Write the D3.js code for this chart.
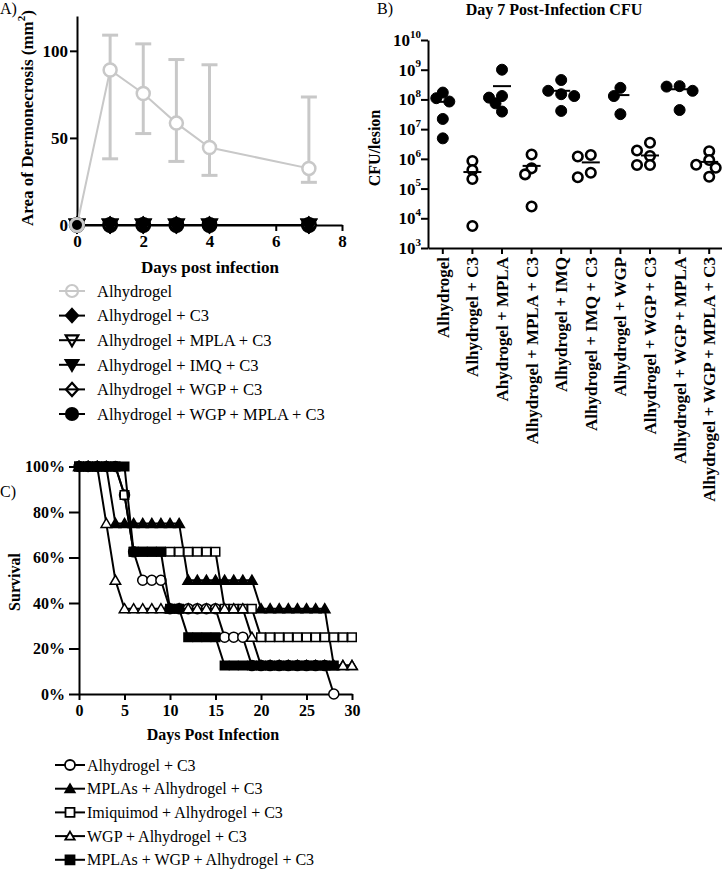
<!DOCTYPE html>
<html><head><meta charset="utf-8">
<script src="https://cdn.jsdelivr.net/npm/d3@7/dist/d3.min.js"></script>
<style>
body{margin:0;background:#fff;}
svg{display:block;background:#fff;}
text{font-family:"Liberation Serif","Times New Roman",serif;fill:#000;}
</style></head><body>
<svg id="chart" width="722" height="869"></svg>
<script>
// ================= Panel A data =================
const dermDays = [0, 1, 2, 3, 4, 7];
const alhydrogelMean  = [0, 89, 75.5, 58.5, 44.5, 32.5];
const alhydrogelUpper = [0, 109, 104, 95, 92, 73.5];
const alhydrogelLower = [0, 38, 52.5, 36.5, 28.5, 24.5];
const c3Area        = [0, 0, 0, 0, 0, 0];
const mplaC3Area    = [0, 0, 0, 0, 0, 0];
const imqC3Area     = [0, 0, 0, 0, 0, 0];
const wgpC3Area     = [0, 0, 0, 0, 0, 0];
const wgpMplaC3Area = [0, 0, 0, 0, 0, 0];
const legendA = ["Alhydrogel", "Alhydrogel + C3", "Alhydrogel + MPLA + C3",
                 "Alhydrogel + IMQ + C3", "Alhydrogel + WGP + C3", "Alhydrogel + WGP + MPLA + C3"];
const dermXTicks = [0, 2, 4, 6, 8];
const dermYTicks = [0, 50, 100];

// ================= Panel B data =================
const cfuGroups = ["Alhydrogel", "Alhydrogel + C3", "Ahydrogel + MPLA", "Alhydrogel + MPLA + C3",
  "Alhydrogel + IMQ", "Alhydrogel + IMQ + C3", "Alhydrogel + WGP", "Alhydrogel + WGP + C3",
  "Alhydrogel + WGP + MPLA", "Alhydrogel + WGP + MPLA + C3"];
const cfuAlh        = [1.7e8, 1.1e8, 8.5e7, 2.2e7, 4.9e6];
const cfuAlhC3      = [8.5e5, 4.2e5, 2.1e5, 5.5e3];
const cfuMpla       = [1.0e9, 1.3e8, 7.4e7, 1.15e8, 3.9e7];
const cfuMplaC3     = [1.4e6, 4.8e5, 3.0e5, 2.5e4];
const cfuImq        = [4.5e8, 1.5e8, 1.95e8, 1.3e8, 4.1e7];
const cfuImqC3      = [1.35e6, 1.2e6, 3.4e5, 2.4e5];
const cfuWgp        = [2.45e8, 1.3e8, 3.2e7];
const cfuWgpC3      = [3.5e6, 1.25e6, 1.9e6, 6.2e5, 6.2e5];
const cfuWgpMpla    = [2.8e8, 2.7e8, 1.95e8, 4.4e7];
const cfuWgpMplaC3  = [1.8e6, 9.1e5, 6.3e5, 5.0e5, 2.5e5];
const cfuCenter     = [8.3e7, 3.6e5, 2.8e8, 5.8e5, 1.95e8, 7.6e5, 1.4e8, 1.3e6, 2.2e8, 7.9e5];
const cfuTicks = [1e3, 1e4, 1e5, 1e6, 1e7, 1e8, 1e9, 1e10];

// ================= Panel C data (survival %, day 0 onward) =================
const survAlhC3     = [100,100,100,100,100,87.5,62.5,50,50,50,37.5,37.5,37.5,37.5,37.5,37.5,25,25,25,12.5,12.5,12.5,12.5,12.5,12.5,12.5,12.5,12.5,0];
const survMpla      = [100,100,100,100,75,75,75,75,75,75,75,75,50,50,50,50,50,50,50,50,37.5,37.5,37.5,37.5,37.5,37.5,37.5,37.5,12.5,12.5,12.5];
const survImq       = [100,100,100,100,100,87.5,62.5,62.5,62.5,62.5,62.5,62.5,62.5,62.5,62.5,62.5,37.5,37.5,37.5,37.5,25,25,25,25,25,25,25,25,25,25,25];
const survWgp       = [100,100,100,75,50,37.5,37.5,37.5,37.5,37.5,37.5,37.5,37.5,37.5,37.5,37.5,37.5,37.5,37.5,25,12.5,12.5,12.5,12.5,12.5,12.5,12.5,12.5,12.5,12.5,12.5];
const survMplaWgp   = [100,100,100,100,100,100,62.5,62.5,62.5,62.5,37.5,37.5,25,25,25,25,12.5,12.5,12.5,12.5,12.5,12.5,12.5,12.5,12.5,12.5,12.5,12.5,12.5];
const legendC = ["Alhydrogel + C3", "MPLAs + Alhydrogel + C3", "Imiquimod + Alhydrogel + C3",
                 "WGP + Alhydrogel + C3", "MPLAs + WGP + Alhydrogel + C3"];
const survXTicks = [0, 5, 10, 15, 20, 25, 30];
const survYTicks = [0, 20, 40, 60, 80, 100];

// ================= helpers =================
const svg = d3.select("#chart");
const GRAY = "#c8c8c8";

function shapePath(kind, s) {
  const h = s / 2;
  switch (kind) {
    case "circle":  return d3.symbol(d3.symbolCircle, Math.PI * h * h)();
    case "square":  return `M${-h},${-h}H${h}V${h}H${-h}Z`;
    case "diamond": return `M0,${-h * 1.1}L${h},0L0,${h * 1.1}L${-h},0Z`;
    case "triUp":   return `M0,${-h}L${h * 1.05},${h * 0.8}L${-h * 1.05},${h * 0.8}Z`;
    case "triDown": return `M0,${h}L${h * 1.05},${-h * 0.8}L${-h * 1.05},${-h * 0.8}Z`;
  }
}
function addMarker(g, kind, filled, x, y, s, color, sw, openFill) {
  return g.append("path").attr("d", shapePath(kind, s))
    .attr("transform", `translate(${x},${y})`)
    .attr("fill", filled ? color : (openFill || "#fff"))
    .attr("stroke", color).attr("stroke-width", sw);
}
function styleAxis(g, fs, weight) {
  g.select(".domain").attr("stroke", "#000").attr("stroke-width", 2);
  g.selectAll(".tick line").attr("stroke", "#000").attr("stroke-width", 2);
  g.selectAll(".tick text").attr("font-family", '"Liberation Serif","Times New Roman",serif')
    .attr("font-size", fs).attr("font-weight", weight || "bold").attr("fill", "#000");
  g.attr("font-family", null).attr("font-size", null);
}

// ================= Panel A =================
const gA = svg.append("g");
const xA = d3.scaleLinear().domain([0, 8]).range([77, 342]);
const yA = d3.scaleLinear().domain([0, 120]).range([225, 16]);

gA.append("text").attr("x", 0).attr("y", 14).attr("font-size", 16).text("A)");

const axAx = gA.append("g").attr("transform", `translate(0,${yA(0)})`)
  .call(d3.axisBottom(xA).tickValues(dermXTicks).tickSize(6).tickSizeOuter(0).tickPadding(4));
styleAxis(axAx, 17);
const axAy = gA.append("g").attr("transform", `translate(${xA(0)},0)`)
  .call(d3.axisLeft(yA).tickValues(dermYTicks).tickSize(7).tickSizeOuter(0).tickPadding(2));
styleAxis(axAy, 17);

gA.append("text").attr("x", 210).attr("y", 273).attr("text-anchor", "middle")
  .attr("font-size", 17).attr("font-weight", "bold").text("Days post infection");
const ylabA = gA.append("text").attr("transform", "translate(27,118) rotate(-90)")
  .attr("text-anchor", "middle").attr("dy", "0.35em").attr("font-size", 17).attr("font-weight", "bold");
ylabA.append("tspan").text("Area of Dermonecrosis (mm");
ylabA.append("tspan").attr("font-size", 11).attr("dy", "-0.7em").text("2");
ylabA.append("tspan").attr("dy", "0.45em").text(")");

const alhPts = dermDays.map((d, i) => ({ d, m: alhydrogelMean[i], u: alhydrogelUpper[i], l: alhydrogelLower[i] }));
alhPts.filter(p => p.u > p.m || p.l < p.m).forEach(p => {
  const x = xA(p.d);
  gA.append("line").attr("x1", x).attr("x2", x).attr("y1", yA(p.u)).attr("y2", yA(p.l))
    .attr("stroke", GRAY).attr("stroke-width", 3);
  [p.u, p.l].forEach(v => gA.append("line").attr("x1", x - 8).attr("x2", x + 8)
    .attr("y1", yA(v)).attr("y2", yA(v)).attr("stroke", GRAY).attr("stroke-width", 3));
});
gA.append("path").datum(alhPts)
  .attr("d", d3.line().x(p => xA(p.d)).y(p => yA(p.m)))
  .attr("fill", "none").attr("stroke", GRAY).attr("stroke-width", 2);
alhPts.forEach(p => addMarker(gA, "circle", false, xA(p.d), yA(p.m), 13, GRAY, 2.5));

const zeroSeries = [
  { v: wgpMplaC3Area, kind: "circle",  filled: true },
  { v: c3Area,        kind: "diamond", filled: true },
  { v: wgpC3Area,     kind: "diamond", filled: false },
  { v: mplaC3Area,    kind: "triDown", filled: false },
  { v: imqC3Area,     kind: "triDown", filled: true }
];
zeroSeries.forEach(s => {
  gA.append("path").datum(dermDays.map((d, i) => [d, s.v[i]]))
    .attr("d", d3.line().x(p => xA(p[0])).y(p => yA(p[1])))
    .attr("fill", "none").attr("stroke", "#000").attr("stroke-width", 2);
  dermDays.forEach((d, i) => addMarker(gA, s.kind, s.filled, xA(d), yA(s.v[i]), 14, "#000", 2));
});
gA.append("path").attr("d", shapePath("circle", 13))
  .attr("transform", `translate(${xA(dermDays[0])},${yA(alhydrogelMean[0])})`)
  .attr("fill", "none").attr("stroke", GRAY).attr("stroke-width", 3);

// legend A
const legAKinds = [["circle", false, GRAY], ["diamond", true, "#000"], ["triDown", false, "#000"],
                   ["triDown", true, "#000"], ["diamond", false, "#000"], ["circle", true, "#000"]];
legendA.forEach((name, i) => {
  const y = 291 + i * 24.6;
  const [k, f, c] = legAKinds[i];
  gA.append("line").attr("x1", 59).attr("x2", 85).attr("y1", y).attr("y2", y)
    .attr("stroke", c).attr("stroke-width", 2);
  addMarker(gA, k, f, 72, y, 12, c, 2.2, "none");
  gA.append("text").attr("x", 97).attr("y", y).attr("dy", "0.35em")
    .attr("font-size", 16.5).text(name);
});

// ================= Panel B =================
const gB = svg.append("g");
const xB = d3.scaleBand().domain(cfuGroups).range([428, 724]);
const yB = d3.scaleLog().domain([1e3, 1e10]).range([248, 40]);

gB.append("text").attr("x", 377).attr("y", 14).attr("font-size", 16).text("B)");
gB.append("text").attr("x", 554).attr("y", 15).attr("text-anchor", "middle")
  .attr("font-size", 16).attr("font-weight", "bold").text("Day 7 Post-Infection CFU");
gB.append("text").attr("transform", "translate(374,148) rotate(-90)").attr("text-anchor", "middle")
  .attr("dy", "0.35em").attr("font-size", 16).attr("font-weight", "bold").text("CFU/lesion");

const axBy = gB.append("g").attr("transform", "translate(428,0)")
  .call(d3.axisLeft(yB).tickValues(cfuTicks).tickFormat("").tickSize(7).tickSizeOuter(0));
styleAxis(axBy, 17);
axBy.selectAll(".tick").each(function (d) {
  const t = d3.select(this).append("text").attr("x", -7).attr("dy", "0.32em")
    .attr("text-anchor", "end").attr("font-size", 17).attr("font-weight", "bold");
  t.append("tspan").text("10");
  t.append("tspan").attr("font-size", 11).attr("dy", "-0.75em").text(Math.round(Math.log10(d)));
});
const axBx = gB.append("g").attr("transform", "translate(0,248)")
  .call(d3.axisBottom(xB).tickSize(6).tickSizeOuter(0));
styleAxis(axBx, 17);
axBx.selectAll(".tick text").attr("transform", "rotate(-90)").attr("text-anchor", "end")
  .attr("x", -9).attr("y", 0).attr("dy", "0.35em");

const cfuAll = [cfuAlh, cfuAlhC3, cfuMpla, cfuMplaC3, cfuImq, cfuImqC3, cfuWgp, cfuWgpC3, cfuWgpMpla, cfuWgpMplaC3];
function swarm(vals, r, step) {
  const placed = [];
  return vals.map(v => {
    const py = yB(v);
    for (let k = 0; k < 30; k++) {
      const off = (k === 0 ? 0 : (k % 2 ? -1 : 1) * Math.ceil(k / 2)) * step;
      if (placed.every(p => Math.hypot(p[0] - off, p[1] - py) >= r)) { placed.push([off, py]); return off; }
    }
    return 0;
  });
}
cfuAll.forEach((vals, gi) => {
  const cx = xB(cfuGroups[gi]) + xB.bandwidth() / 2;
  const offs = swarm(vals, 8.5, 6.5);
  const filled = gi % 2 === 0;
  vals.forEach((v, i) => addMarker(gB, "circle", filled, cx + offs[i], yB(v), filled ? 11 : 9.5, "#000", filled ? 1 : 2.6));
  gB.append("line").attr("x1", cx - 9).attr("x2", cx + 9)
    .attr("y1", yB(cfuCenter[gi])).attr("y2", yB(cfuCenter[gi]))
    .attr("stroke", "#000").attr("stroke-width", 2);
});

// ================= Panel C =================
const gC = svg.append("g");
const xC = d3.scaleLinear().domain([0, 30]).range([79, 352]);
const yC = d3.scaleLinear().domain([0, 100]).range([694, 466.5]);

gC.append("text").attr("x", 0).attr("y", 497).attr("font-size", 16).text("C)");
const axCx = gC.append("g").attr("transform", `translate(0,${yC(0)})`)
  .call(d3.axisBottom(xC).tickValues(survXTicks).tickSize(6).tickSizeOuter(0).tickPadding(5));
styleAxis(axCx, 16);
const axCy = gC.append("g").attr("transform", `translate(${xC(0)},0)`)
  .call(d3.axisLeft(yC).tickValues(survYTicks).tickFormat(d => d + "%").tickSize(10).tickSizeOuter(0).tickPadding(4));
styleAxis(axCy, 16);
gC.append("text").attr("x", 213).attr("y", 740).attr("text-anchor", "middle")
  .attr("font-size", 16).attr("font-weight", "bold").text("Days Post Infection");
gC.append("text").attr("transform", "translate(14,582) rotate(-90)").attr("text-anchor", "middle")
  .attr("dy", "0.35em").attr("font-size", 16).attr("font-weight", "bold").text("Survival");

const survSeries = [
  { v: survAlhC3,   kind: "circle", filled: false },
  { v: survMpla,    kind: "triUp",  filled: true },
  { v: survImq,     kind: "square", filled: false },
  { v: survWgp,     kind: "triUp",  filled: false },
  { v: survMplaWgp, kind: "square", filled: true }
];
survSeries.forEach(s => {
  const pts = s.v.map((p, d) => [d, p]);
  gC.append("path").datum(pts)
    .attr("d", d3.line().x(p => xC(p[0])).y(p => yC(p[1])))
    .attr("fill", "none").attr("stroke", "#000").attr("stroke-width", 2);
  pts.forEach(p => addMarker(gC, s.kind, s.filled, xC(p[0]), yC(p[1]),
    s.kind === "circle" ? 10 : (s.kind === "square" ? 8.5 : 10), "#000", 1.5));
});

// legend C
legendC.forEach((name, i) => {
  const y = 765 + i * 23.7;
  const s = survSeries[i];
  gC.append("line").attr("x1", 55).attr("x2", 85).attr("y1", y).attr("y2", y)
    .attr("stroke", "#000").attr("stroke-width", 2);
  addMarker(gC, s.kind, s.filled, 70, y, s.kind === "circle" ? 10 : 9, "#000", 1.8);
  gC.append("text").attr("x", 87).attr("y", y).attr("dy", "0.35em").attr("font-size", 16).text(name);
});
</script>
</body></html>
